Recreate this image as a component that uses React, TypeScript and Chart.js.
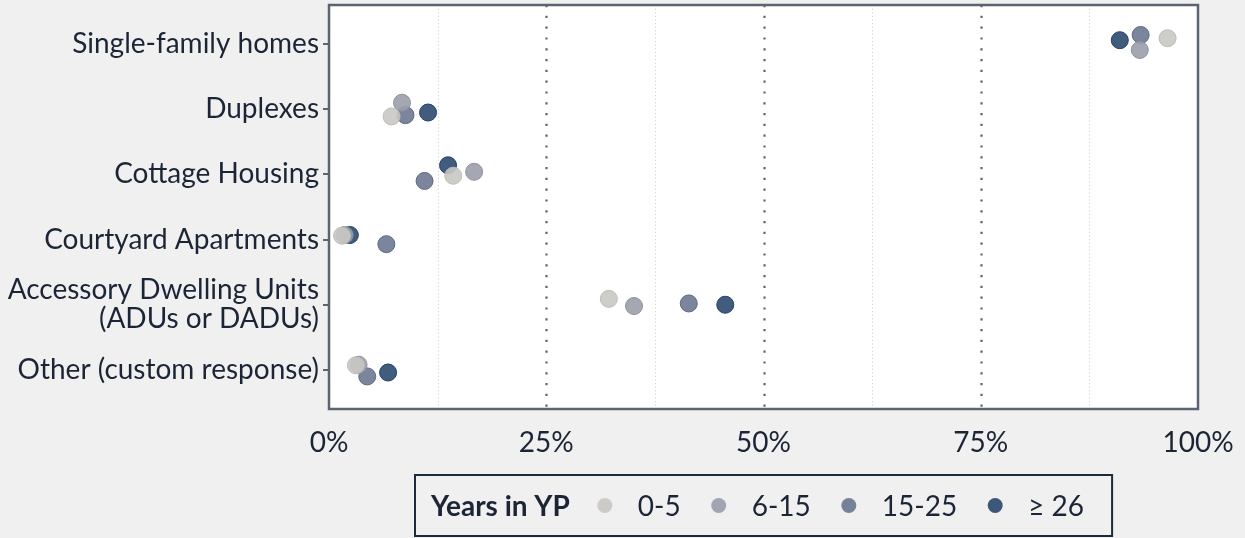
import React, { useEffect, useRef } from "react";
import { Chart, registerables } from "chart.js";

Chart.register(...registerables);

// Categories, top to bottom (y position 6 .. 1)
const categories: (string | string[])[] = [
  "Single-family homes",
  "Duplexes",
  "Cottage Housing",
  "Courtyard Apartments",
  ["Accessory Dwelling Units", "(ADUs or DADUs)"],
  "Other (custom response)",
];
const categoryPos = [6, 5, 4, 3, 2, 1];

const groups = ["0-5", "6-15", "15-25", "≥ 26"];
const groupColors = ["#c9c8c4", "#9b9dab", "#6d7890", "#2d4a70"];
const groupBorders = ["#bdbcb8", "#8f91a0", "#5f6a83", "#22406a"];

// Percent values per group (same order as categories)
const vals0to5 = [96.5, 7.2, 14.3, 1.5, 32.2, 3.1];
const vals6to15 = [93.3, 8.4, 16.7, 1.8, 35.1, 3.4];
const vals15to25 = [93.4, 8.8, 11.0, 6.6, 41.4, 4.4];
const vals26plus = [91.0, 11.4, 13.7, 2.4, 45.6, 6.8];

// Vertical jitter (in category units)
const jit0to5 = [0.09, -0.11, -0.02, 0.06, 0.09, 0.07];
const jit6to15 = [-0.09, 0.1, 0.04, 0.07, -0.02, 0.08];
const jit15to25 = [0.14, -0.09, -0.1, -0.07, 0.02, -0.1];
const jit26plus = [0.06, -0.05, 0.14, 0.07, 0.0, -0.04];

const groupVals = [vals0to5, vals6to15, vals15to25, vals26plus];
const groupJit = [jit0to5, jit6to15, jit15to25, jit26plus];

const xTicks = [0, 12.5, 25, 37.5, 50, 62.5, 75, 87.5, 100];

// Panel extent in category units (discrete axis expanded by 0.6 each side)
const Y_LO = 0.4;
const Y_HI = 6.6;
const Y_SCALE_MAX = 6.531; // chart area starts a few px below the panel top

const FONT = "Lato";
const TEXT = "#1c2536";
const AXIS = "#5b6471";
const BG = "#f0f0f0";
const FS = 28;

function hexA(hex: string, a: number) {
  const n = parseInt(hex.slice(1), 16);
  return `rgba(${(n >> 16) & 255},${(n >> 8) & 255},${n & 255},${a})`;
}

function panel(chart: any) {
  const { chartArea, scales } = chart;
  const top = Math.round(scales.y.getPixelForValue(Y_HI));
  const bottom = chartArea.bottom;
  return { left: chartArea.left, right: chartArea.right, top, bottom };
}

const framePlugin = {
  id: "frame",
  beforeDraw(chart: any) {
    const { ctx, width, height } = chart;
    const p = panel(chart);
    ctx.save();
    ctx.fillStyle = BG;
    ctx.fillRect(0, 0, width, height);
    ctx.fillStyle = "#ffffff";
    ctx.fillRect(p.left, p.top, p.right - p.left, p.bottom - p.top);
    ctx.restore();
  },
  beforeDatasetsDraw(chart: any) {
    const { ctx, scales } = chart;
    const p = panel(chart);
    const xs = scales.x;
    ctx.save();
    xTicks.forEach((t) => {
      if (t === 0 || t === 100) return;
      const px = Math.round(xs.getPixelForValue(t)) + 0.5;
      const major = t % 25 === 0;
      ctx.beginPath();
      if (major) {
        ctx.strokeStyle = AXIS;
        ctx.lineWidth = 2.2;
        ctx.setLineDash([2.2, 8.6]);
      } else {
        ctx.strokeStyle = "#d4d4d4";
        ctx.lineWidth = 1;
        ctx.setLineDash([1.2, 2.4]);
      }
      ctx.moveTo(px, p.top);
      ctx.lineTo(px, p.bottom);
      ctx.stroke();
    });
    ctx.restore();
  },
  afterDatasetsDraw(chart: any) {
    const { ctx } = chart;
    const p = panel(chart);
    ctx.save();
    ctx.strokeStyle = AXIS;
    ctx.lineWidth = 2.5;
    ctx.setLineDash([]);
    ctx.strokeRect(p.left, p.top, p.right - p.left, p.bottom - p.top);
    ctx.restore();
  },
  afterDraw(chart: any) {
    const { ctx, chartArea } = chart;
    ctx.save();
    const titleFont = `bold ${FS}px ${FONT}`;
    const itemFont = `${FS}px ${FONT}`;
    ctx.font = titleFont;
    const titleW = ctx.measureText("Years in YP").width;
    ctx.font = itemFont;
    const labelW = groups.map((g) => ctx.measureText(g).width);
    const padL = 16;
    const padR = 28;
    const gapToCircle = 35;
    const circleToText = 33;
    const textToCircle = 38;
    let total = padL + titleW + gapToCircle + padR;
    labelW.forEach((w, i) => {
      total += circleToText + w + (i > 0 ? textToCircle : 0);
    });
    const cx = (chartArea.left + chartArea.right) / 2;
    const left = Math.round(cx - total / 2);
    const top = 475;
    const h = 61;
    ctx.strokeStyle = "#1c2a3a";
    ctx.lineWidth = 2;
    ctx.strokeRect(left, top, total, h);
    const midY = top + h / 2;
    ctx.textBaseline = "middle";
    ctx.textAlign = "left";
    ctx.fillStyle = TEXT;
    let x = left + padL;
    ctx.font = titleFont;
    ctx.fillText("Years in YP", x, midY + 1);
    x += titleW;
    ctx.font = itemFont;
    groups.forEach((g, i) => {
      x += i === 0 ? gapToCircle : textToCircle;
      ctx.beginPath();
      ctx.arc(x, midY, 7.5, 0, Math.PI * 2);
      ctx.fillStyle = hexA(groupColors[i], 0.92);
      ctx.fill();
      x += circleToText;
      ctx.fillStyle = TEXT;
      ctx.fillText(g, x, midY + 1);
      x += labelW[i];
    });
    ctx.restore();
  },
};

export default function App() {
  const ref = useRef<HTMLCanvasElement>(null);
  useEffect(() => {
    document.body.style.margin = "0";
    document.body.style.background = BG;
    const datasets = groups.map((g, gi) => ({
      label: g,
      data: groupVals[gi].map((v, ci) => ({ x: v, y: categoryPos[ci] + groupJit[gi][ci] })),
      pointRadius: 8.5,
      pointHoverRadius: 8.5,
      pointBackgroundColor: hexA(groupColors[gi], 0.9),
      pointBorderColor: groupBorders[gi],
      pointBorderWidth: 1,
      showLine: false,
    }));
    const chart = new Chart(ref.current as HTMLCanvasElement, {
      type: "scatter",
      data: { datasets },
      plugins: [framePlugin],
      options: {
        animation: false,
        responsive: false,
        events: [],
        layout: { padding: { left: 0, right: 47, top: 5, bottom: 0 } },
        plugins: { legend: { display: false }, tooltip: { enabled: false } },
        scales: {
          x: {
            type: "linear",
            min: 0,
            max: 100,
            afterBuildTicks: (scale: any) => {
              scale.ticks = xTicks.map((v) => ({ value: v }));
            },
            afterFit: (scale: any) => {
              scale.height = 129;
              scale.paddingLeft = 0;
              scale.paddingRight = 0;
            },
            grid: { display: false },
            border: { display: false },
            ticks: {
              autoSkip: false,
              maxRotation: 0,
              padding: 9,
              color: TEXT,
              font: { family: FONT, size: FS },
              callback: (v: any) => (Number(v) % 25 === 0 ? `${v}%` : ""),
            },
          },
          y: {
            type: "linear",
            min: Y_LO,
            max: Y_SCALE_MAX,
            afterBuildTicks: (scale: any) => {
              scale.ticks = categoryPos.map((v) => ({ value: v }));
            },
            afterFit: (scale: any) => {
              scale.width = 329;
              scale.paddingTop = 0;
              scale.paddingBottom = 0;
            },
            grid: {
              display: true,
              drawOnChartArea: false,
              drawTicks: true,
              tickLength: 6,
              color: AXIS,
              lineWidth: 2,
            },
            border: { display: false },
            ticks: {
              autoSkip: false,
              padding: 4,
              color: TEXT,
              font: { family: FONT, size: FS, lineHeight: 1.05 },
              callback: (v: any) => {
                const idx = categoryPos.indexOf(Number(v));
                return idx >= 0 ? (categories[idx] as any) : "";
              },
            },
          },
        },
      } as any,
    });
    return () => chart.destroy();
  }, []);
  return (
    <div style={{ width: 1245, height: 538, background: BG }}>
      <canvas ref={ref} width={1245} height={538} style={{ display: "block" }} />
    </div>
  );
}
